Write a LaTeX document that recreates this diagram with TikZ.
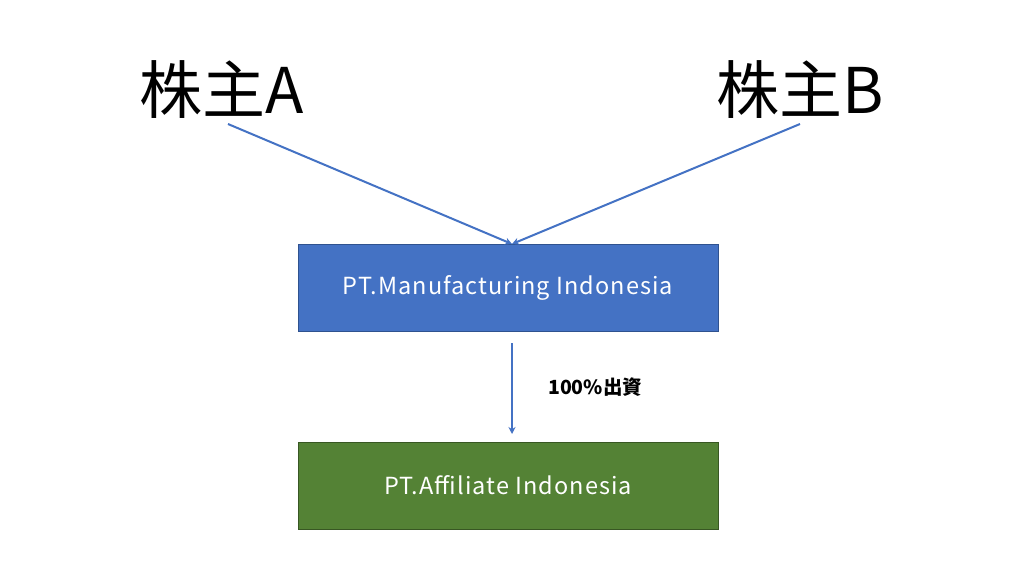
\documentclass[tikz,border=0pt]{standalone}
\usepackage{fontspec}
\setmainfont{Noto Sans CJK JP}
\usetikzlibrary{arrows.meta}
\definecolor{boxblue}{HTML}{4472C4}
\definecolor{boxblueedge}{HTML}{2F528F}
\definecolor{boxgreen}{HTML}{548235}
\definecolor{boxgreenedge}{HTML}{385723}
\definecolor{lineblue}{HTML}{4472C4}
\tikzset{
  x=1pt,y=-1pt,
  holder/.style={font=\fontsize{63}{63}\selectfont, text=black, inner sep=0pt},
  company/.style={minimum width=420pt, minimum height=87pt, inner sep=0pt, text=white, font=\addfontfeatures{LetterSpace=4.5}\fontsize{23.5}{26}\selectfont, line width=0.8pt},
  conn/.style={draw=lineblue, line width=2pt, -{Stealth[length=7pt,width=7pt]}},
}
\begin{document}
\begin{tikzpicture}
\useasboundingbox[fill=white] (0,0) rectangle (1024,576);
\node[holder] (A) at (222,90) {株主A};
\node[holder] (B) at (800,90) {株主B};
\coordinate (Aend) at (228,124);
\coordinate (Bend) at (800,124);
\node[company, fill=boxblue, draw=boxblueedge] (M) at (508,287.5) {PT.Manufacturing Indonesia};
\node[company, fill=boxgreen, draw=boxgreenedge] (F) at (508,485.5) {PT.Affiliate Indonesia};
\coordinate (Mtop) at (512,244);
\coordinate (Mbot) at (512,343);
\coordinate (Ftop) at (512,434);
\draw[conn] (Aend) -- (Mtop);
\draw[conn] (Bend) -- (Mtop);
\draw[conn] (Mbot) -- (Ftop);
\node[font=\bfseries\fontsize{19.5}{21}\selectfont, anchor=west, inner sep=0pt] (L) at (548,387) {100\%出資};
\end{tikzpicture}
\end{document}
